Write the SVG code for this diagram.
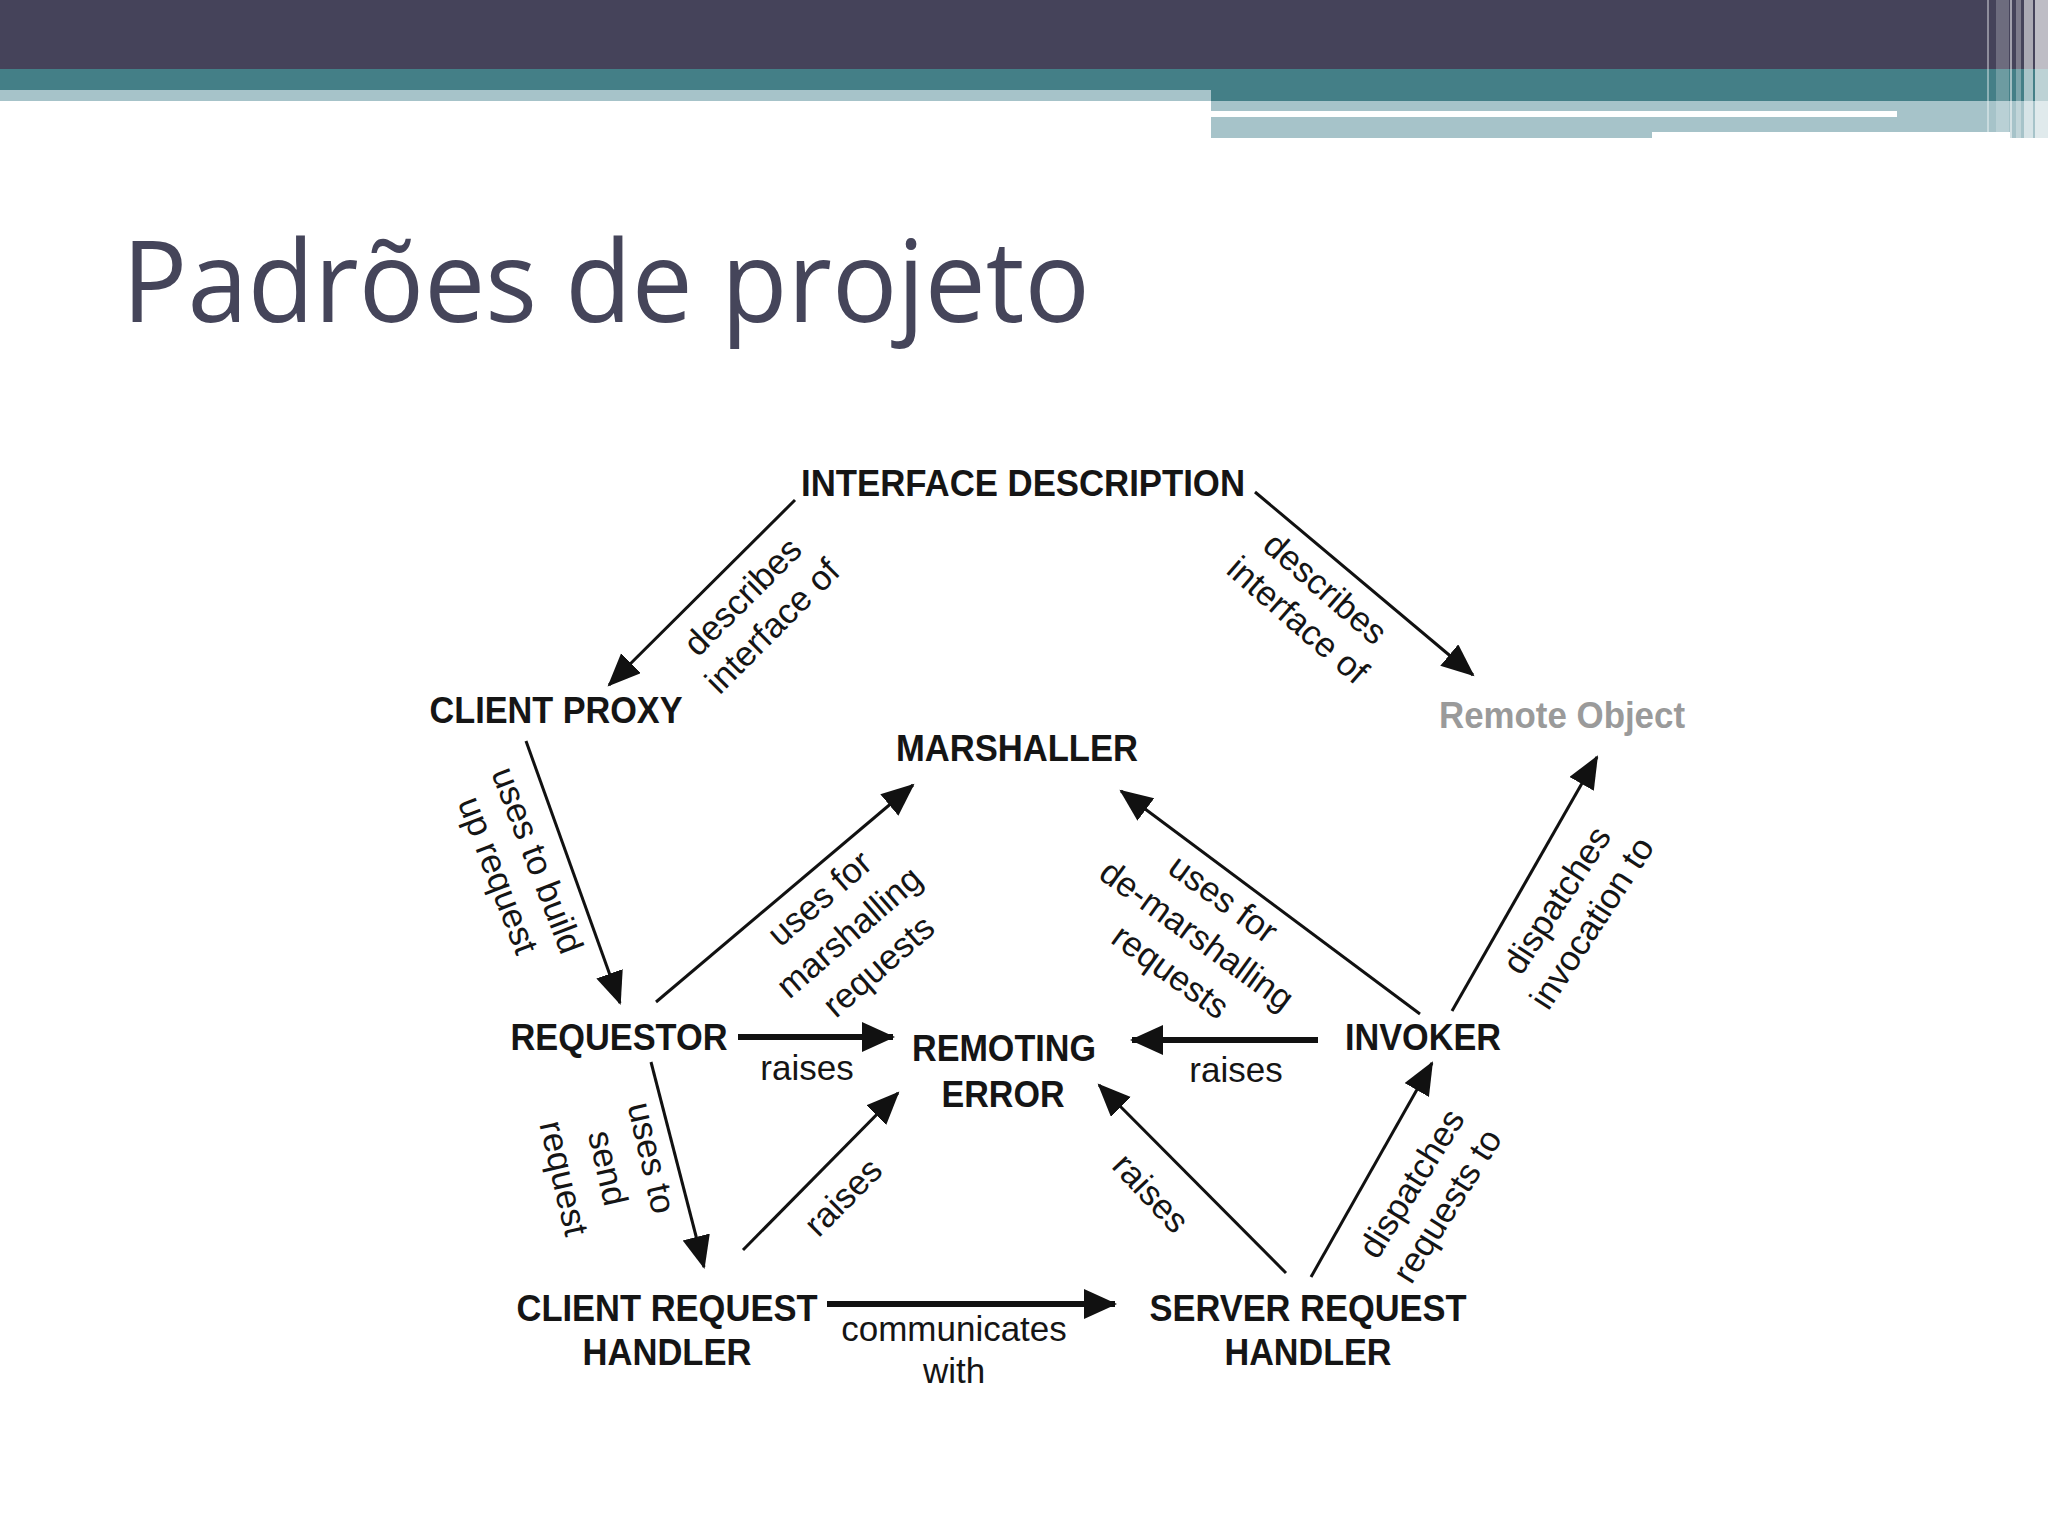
<svg xmlns="http://www.w3.org/2000/svg" width="2048" height="1536" viewBox="0 0 2048 1536">
<style>
.node{font-family:"Liberation Sans",Arial,sans-serif;font-weight:bold;font-size:37px;fill:#151515;text-anchor:middle}
.lbl{font-family:"Liberation Sans",Arial,sans-serif;font-size:35px;fill:#151515;text-anchor:middle}
.thin{stroke:#111;stroke-width:3;fill:none;marker-end:url(#ah)}
.thick{stroke:#111;stroke-width:6;fill:none;marker-end:url(#ahb)}
</style>
<defs>
<marker id="ah" markerUnits="userSpaceOnUse" markerWidth="36" markerHeight="30" refX="31" refY="14" orient="auto">
<path d="M0,0 L33,14 L0,28 z" fill="#111"/>
</marker>
<marker id="ahb" markerUnits="userSpaceOnUse" markerWidth="36" markerHeight="32" refX="31" refY="15" orient="auto">
<path d="M0,0 L33,15 L0,30 z" fill="#111"/>
</marker>
</defs>
<rect width="2048" height="1536" fill="#ffffff"/>
<g id="header">
<rect x="0" y="0" width="2048" height="69" fill="#45435A"/>
<rect x="0" y="69" width="2048" height="32" fill="#447F87"/>
<rect x="0" y="90" width="1211" height="11" fill="#A6C3C9"/>
<rect x="1211" y="101" width="837" height="37" fill="#A6C3C9"/>
<rect x="1211" y="111" width="686" height="6" fill="#ffffff"/>
<rect x="1652" y="132" width="358" height="6" fill="#ffffff"/>
<rect x="1987" y="0" width="2" height="138" fill="#ffffff" opacity="0.4"/>
<rect x="1996" y="0" width="13" height="138" fill="#ffffff" opacity="0.22"/>
<rect x="2010" y="0" width="2" height="138" fill="#ffffff" opacity="0.5"/>
<rect x="2016" y="0" width="5" height="138" fill="#ffffff" opacity="0.3"/>
<rect x="2024" y="0" width="9" height="138" fill="#ffffff" opacity="0.55"/>
<rect x="2035" y="0" width="13" height="138" fill="#ffffff" opacity="0.65"/>
</g>
<text id="title" x="122" y="322" font-family="'Open Sans','Noto Sans',sans-serif" font-size="114" fill="#45455A" textLength="968" lengthAdjust="spacingAndGlyphs">Padrões de projeto</text>
<g id="connectors">
<line class="thin" x1="795" y1="500" x2="609" y2="685"/>
<line class="thin" x1="1255" y1="492" x2="1473" y2="675"/>
<line class="thin" x1="526" y1="741" x2="620" y2="1003"/>
<line class="thin" x1="656" y1="1002" x2="913" y2="785"/>
<line class="thick" x1="738" y1="1037" x2="893" y2="1037"/>
<line class="thin" x1="651" y1="1062" x2="704" y2="1267"/>
<line class="thin" x1="743" y1="1250" x2="898" y2="1093"/>
<line class="thick" x1="827" y1="1304" x2="1115" y2="1304"/>
<line class="thin" x1="1286" y1="1273" x2="1099" y2="1085"/>
<line class="thin" x1="1311" y1="1277" x2="1432" y2="1063"/>
<line class="thick" x1="1318" y1="1040" x2="1132" y2="1040"/>
<line class="thin" x1="1420" y1="1014" x2="1121" y2="791"/>
<line class="thin" x1="1452" y1="1011" x2="1597" y2="757"/>
</g>
<g id="edge-labels">
<g transform="translate(758,612) rotate(-45)"><text class="lbl" y="-10">describes</text><text class="lbl" y="32">interface of</text></g>
<g transform="translate(1311,605) rotate(41)"><text class="lbl" y="-10">describes</text><text class="lbl" y="32">interface of</text></g>
<g transform="translate(517,868) rotate(69)"><text class="lbl" y="-10">uses to build</text><text class="lbl" y="32">up request</text></g>
<g transform="translate(849,932) rotate(-41)"><text class="lbl" y="-33">uses for</text><text class="lbl" y="12">marshalling</text><text class="lbl" y="57">requests</text></g>
<g transform="translate(608,1168) rotate(77)"><text class="lbl" y="-33">uses to</text><text class="lbl" y="12">send</text><text class="lbl" y="57">request</text></g>
<g transform="translate(1197,935) rotate(36)"><text class="lbl" y="-33">uses for</text><text class="lbl" y="12">de-marshalling</text><text class="lbl" y="57">requests</text></g>
<g transform="translate(1430,1195) rotate(-58)"><text class="lbl" y="-10">dispatches</text><text class="lbl" y="32">requests to</text></g>
<g transform="translate(1575,912) rotate(-57)"><text class="lbl" y="-10">dispatches</text><text class="lbl" y="32">invocation to</text></g>
<g transform="translate(843,1197) rotate(-45)"><text class="lbl" y="12">raises</text></g>
<g transform="translate(1151,1193) rotate(47)"><text class="lbl" y="12">raises</text></g>
<text class="lbl" x="807" y="1080">raises</text>
<text class="lbl" x="1236" y="1082">raises</text>
<text class="lbl" x="954" y="1341">communicates</text>
<text class="lbl" x="954" y="1383">with</text>
</g>
<g id="interface-description"><text class="node" x="1023" y="496" textLength="444" lengthAdjust="spacingAndGlyphs">INTERFACE DESCRIPTION</text></g>
<g id="client-proxy"><text class="node" x="556" y="723" textLength="253" lengthAdjust="spacingAndGlyphs">CLIENT PROXY</text></g>
<g id="marshaller"><text class="node" x="1017" y="761" textLength="242" lengthAdjust="spacingAndGlyphs">MARSHALLER</text></g>
<g id="remote-object"><text class="node" x="1562" y="728" textLength="246" lengthAdjust="spacingAndGlyphs" style="fill:#9a9a9a">Remote Object</text></g>
<g id="requestor"><text class="node" x="619" y="1050" textLength="217" lengthAdjust="spacingAndGlyphs">REQUESTOR</text></g>
<g id="remoting-error"><text class="node" x="1004" y="1061" textLength="184" lengthAdjust="spacingAndGlyphs">REMOTING</text><text class="node" x="1003" y="1107" textLength="123" lengthAdjust="spacingAndGlyphs">ERROR</text></g>
<g id="invoker"><text class="node" x="1423" y="1050" textLength="156" lengthAdjust="spacingAndGlyphs">INVOKER</text></g>
<g id="client-request-handler"><text class="node" x="667" y="1321" textLength="301" lengthAdjust="spacingAndGlyphs">CLIENT REQUEST</text><text class="node" x="667" y="1365" textLength="169" lengthAdjust="spacingAndGlyphs">HANDLER</text></g>
<g id="server-request-handler"><text class="node" x="1308" y="1321" textLength="317" lengthAdjust="spacingAndGlyphs">SERVER REQUEST</text><text class="node" x="1308" y="1365" textLength="167" lengthAdjust="spacingAndGlyphs">HANDLER</text></g>
</svg>
